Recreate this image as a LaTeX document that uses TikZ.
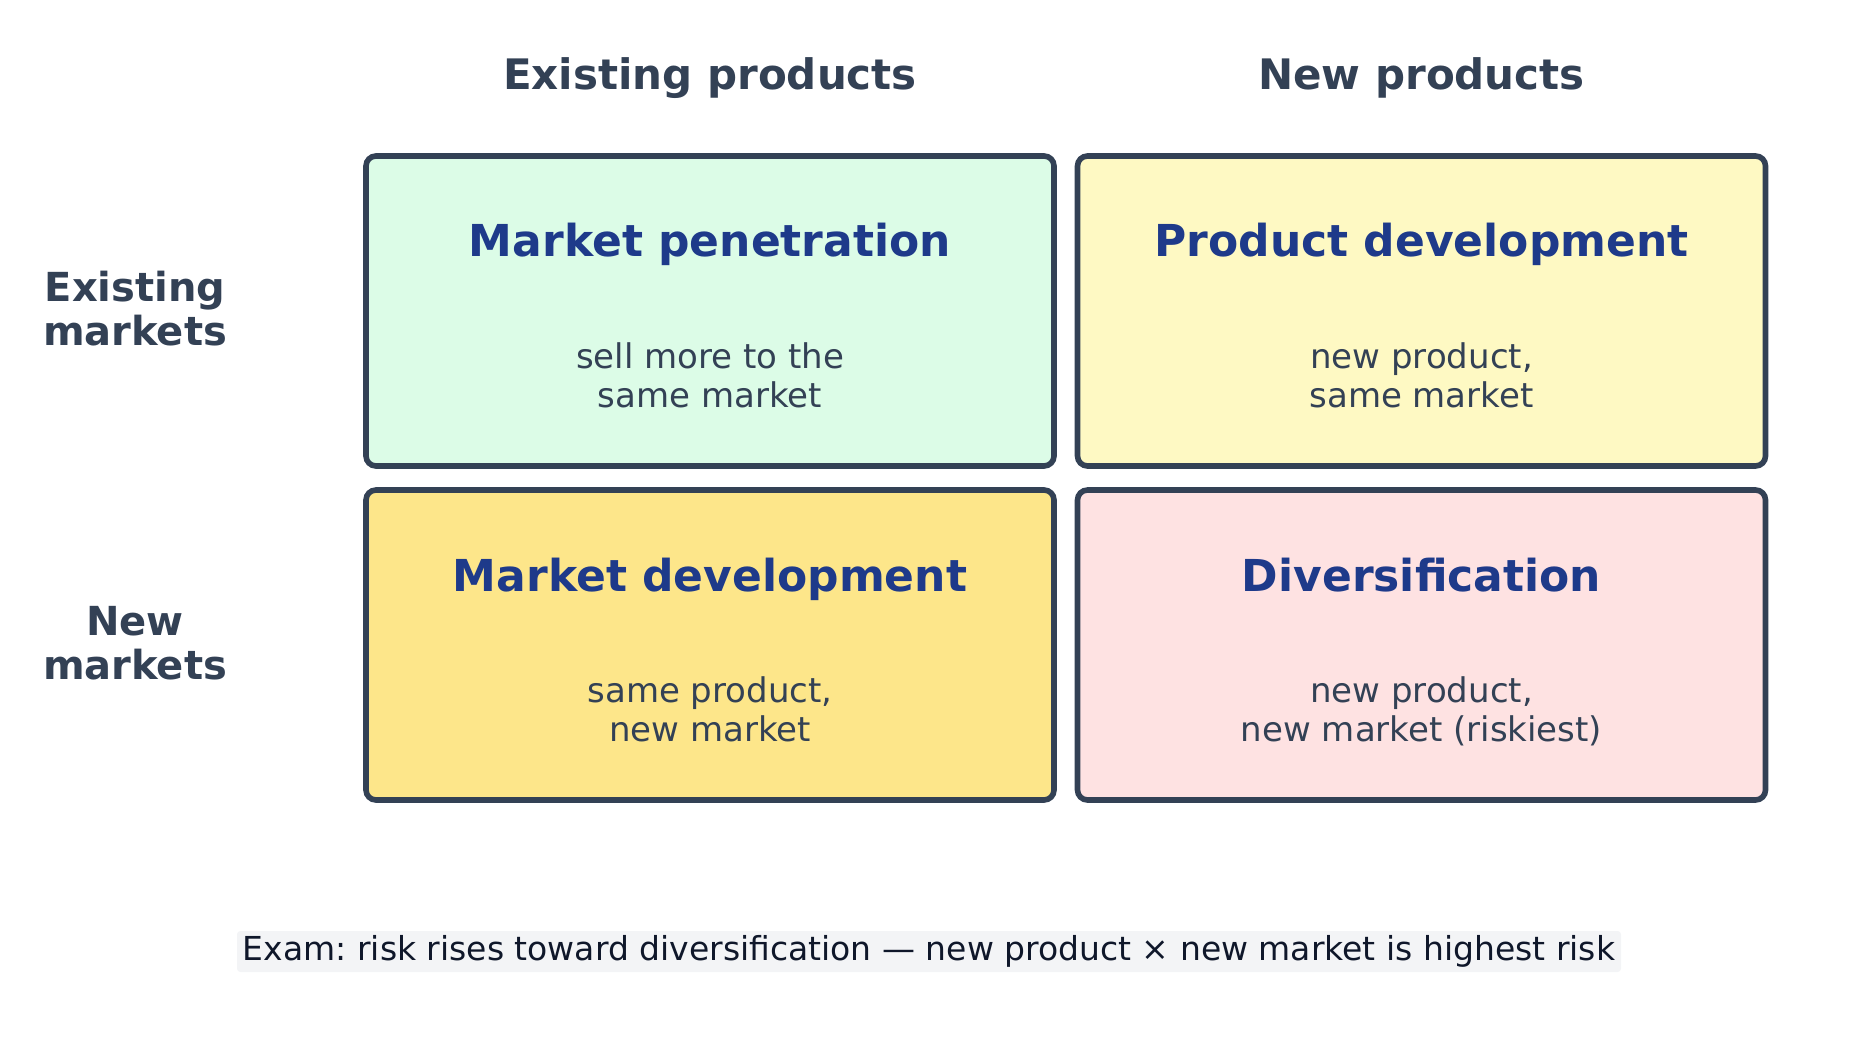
\documentclass[tikz,border=0pt]{standalone}
\usepackage{fontspec}
\setmainfont{DejaVu Sans}
\usetikzlibrary{positioning}
\frenchspacing
\definecolor{ink}{HTML}{334155}
\definecolor{navy}{HTML}{1E3A8A}
\definecolor{mint}{HTML}{DCFCE7}
\definecolor{cream}{HTML}{FEF9C3}
\definecolor{honey}{HTML}{FDE68A}
\definecolor{blush}{HTML}{FEE2E2}
\definecolor{notebg}{HTML}{F3F4F6}
\definecolor{notetext}{HTML}{0F172A}

\begin{document}
\begin{tikzpicture}[x=0.75pt,y=-0.75pt,
  quad/.style={draw=ink,line width=4.2pt,rounded corners=7.5pt,
               minimum width=516pt,minimum height=232.5pt},
  colhead/.style={anchor=base,text=ink,font=\bfseries\fontsize{31.5}{36}\selectfont},
  rowhead/.style={anchor=base,text=ink,align=center,font=\bfseries\fontsize{30}{33}\selectfont},
  qtitle/.style={anchor=base,text=navy,font=\bfseries\fontsize{33}{38}\selectfont},
  qtext/.style={anchor=base,text=ink,align=center,font=\fontsize{25.5}{29.25}\selectfont}]
\useasboundingbox (0,0) rectangle (1859,1041);
% Quadrant boxes
\node[quad,fill=mint]  (pen) at (710,311)    {};
\node[quad,fill=cream] (pdv) at (1421.5,311) {};
\node[quad,fill=honey] (mdv) at (710,645)    {};
\node[quad,fill=blush] (div) at (1421.5,645) {};
% Axis headings (base = last line)
\node[colhead] (oldprod) at (710,90)    {Existing products};
\node[colhead] (newprod) at (1421.5,90) {New products};
\node[rowhead] (oldmkt) at (135,345.5) {Existing\\markets};
\node[rowhead] (newmkt) at (135,679.5) {New\\markets};
% Titles and notes in the boxes
\node[qtitle] (pentitle) at (710,257)    {Market penetration};
\node[qtitle] (pdvtitle) at (1421.5,257) {Product development};
\node[qtitle] (mdvtitle) at (710,591)    {Market development};
\node[qtitle] (divtitle) at (1421.5,591) {Diversification};
\node[qtext] (pentext) at (710,407)    {sell more to the\\same market};
\node[qtext] (pdvtext) at (1421.5,407) {new product,\\same market};
\node[qtext] (mdvtext) at (710,741)    {same product,\\new market};
\node[qtext] (divtext) at (1421.5,741) {new product,\\new market (riskiest)};
% Exam note
\node[fill=notebg,rounded corners=2.5pt,minimum width=1038pt,minimum height=30.75pt,
      text=notetext,font=\fontsize{24.75}{29}\selectfont] (exam) at (929,951.5)
  {Exam: risk rises toward diversification — new product × new market is highest risk};
\end{tikzpicture}
\end{document}
